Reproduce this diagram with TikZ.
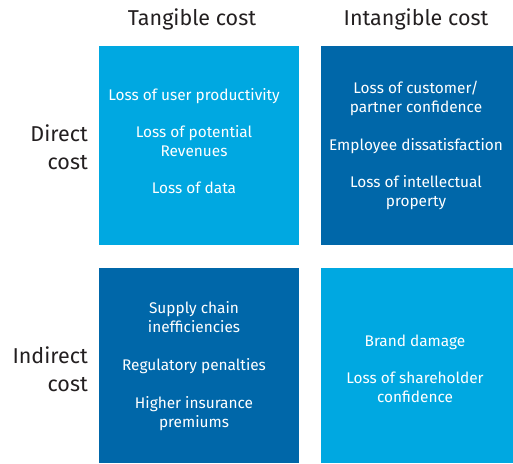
\documentclass[tikz,border=0pt]{standalone}
\usepackage{fontspec}
\setmainfont{Fira Sans}

\definecolor{lightblue}{HTML}{00A8E1}
\definecolor{darkblue}{HTML}{0067A9}
\definecolor{headgray}{HTML}{231F20}

\begin{document}
\begin{tikzpicture}[x=1pt,y=-1pt,
    box/.style={fill=#1, draw=none, inner sep=0pt, anchor=north west},
    item/.style={text=white, align=center, inner sep=0pt, font=\fontsize{15.4}{19}\selectfont},
    head/.style={text=headgray, inner sep=0pt, font=\fontsize{21.5}{28}\selectfont}]
    \useasboundingbox (0,0) rectangle (513,463);

    % the four boxes
    \node[box=lightblue, minimum width=200pt, minimum height=199pt] (tangdirect) at (99,46) {};
    \node[box=darkblue, minimum width=192pt, minimum height=199pt] (intangdirect) at (321,46) {};
    \node[box=darkblue, minimum width=200pt, minimum height=195pt] (tangindirect) at (99,268) {};
    \node[box=lightblue, minimum width=192pt, minimum height=195pt] (intangindirect) at (321,268) {};

    % column and row heads
    \node[head] (tanghead) at (192,19) {Tangible cost};
    \node[head] (intanghead) at (416,19) {Intangible cost};
    \node[head, align=right, anchor=east] (directhead) at (88,147) {Direct\\cost};
    \node[head, align=right, anchor=east] (indirecthead) at (88,369) {Indirect\\cost};

    % box texts
    \node[item] (tangdirecttext) at (194,141.5)
        {Loss of user productivity\\[18pt]Loss of potential\\Revenues\\[18pt]Loss of data};
    \node[item] (intangdirecttext) at (416,145.5)
        {Loss of customer/\\partner confidence\\[19pt]Employee dissatisfaction\\[18pt]Loss of intellectual\\property};
    \node[item] (tangindirecttext) at (194,366.5)
        {Supply chain\\inefficiencies\\[19pt]Regulatory penalties\\[19pt]Higher insurance\\premiums};
    \node[item] (intangindirecttext) at (415,369)
        {Brand damage\\[18pt]Loss of shareholder\\confidence};
\end{tikzpicture}
\end{document}
